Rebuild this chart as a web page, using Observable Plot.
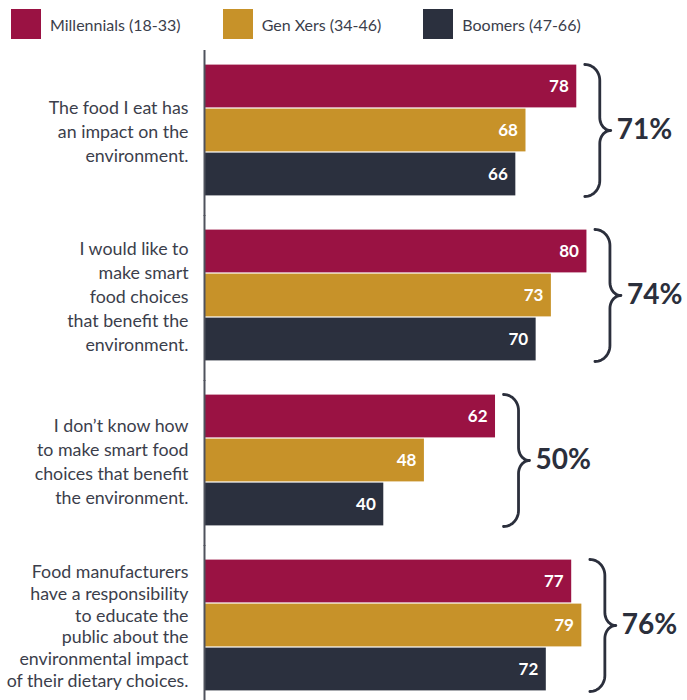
<!DOCTYPE html>
<html>
<head>
<meta charset="utf-8">
<script src="https://cdn.jsdelivr.net/npm/d3@7"></script>
<script src="https://cdn.jsdelivr.net/npm/@observablehq/plot@0.6"></script>
<style>
  body { margin: 0; background: #fff; font-family: Lato, "Open Sans", sans-serif; }
  #legend { display: flex; align-items: center; height: 46px; box-sizing: border-box; padding: 9px 0 7px 11px; }
  .item { display: flex; align-items: center; margin-right: 42px; }
  .sw { width: 30px; height: 30px; margin-right: 9px; }
  .lab { font-size: 16px; color: #3b3e4b; }
  #chart svg { display: block; }
</style>
</head>
<body>
<div id="legend"></div>
<div id="chart"></div>
<script>
// ---- data ----
const statements = [
  "The food I eat has\nan impact on the\nenvironment.",
  "I would like to\nmake smart\nfood choices\nthat benefit the\nenvironment.",
  "I don\u2019t know how\nto make smart food\nchoices that benefit\nthe environment.",
  "Food manufacturers\nhave a responsibility\nto educate the\npublic about the\nenvironmental impact\nof their dietary choices."
];
const generations = ["Millennials (18-33)", "Gen Xers (34-46)", "Boomers (47-66)"];
const colors = ["#9a1243", "#c79229", "#2b303e"];
const millennials = [78, 80, 62, 77];
const genXers = [68, 73, 48, 79];
const boomers = [66, 70, 40, 72];
const overall = [71, 74, 50, 76];

// ---- layout ----
const W = 687, H = 654, ML = 204, MR = 0, MT = 17, MB = 8;
const XMIN = 4.7, XMAX = 99.8;
const k = (W - ML - MR) / (XMAX - XMIN);      // px per value unit
const bandPx = 132, yPerPx = 3 / bandPx;       // y units per px inside a facet
const ink = "#2b2f3c", textCol = "#3b3e4b";
const labelSize = 17.8;

// legend
const legend = document.getElementById("legend");
generations.forEach((g, i) => {
  const it = document.createElement("div"); it.className = "item";
  const sw = document.createElement("div"); sw.className = "sw"; sw.style.background = colors[i];
  const lb = document.createElement("span"); lb.className = "lab"; lb.textContent = g;
  it.append(sw, lb); legend.append(it);
});

const series = [millennials, genXers, boomers];
const rows = statements.flatMap((s, si) => series.map((arr, gi) => ({statement: s, gen: generations[gi], gi, value: arr[si]})));
const groups = statements.map((s, si) => ({statement: s, max: Math.max(...series.map(a => a[si])), pct: overall[si], lines: s.split("\n").length}));

// brace points (derived from each group's longest bar)
function brace(g) {
  const h = g.max + 8 / k, v = g.max + 23 / k, t = g.max + 34 / k;
  const r1 = 16 * yPerPx, r2 = 13 * yPerPx;
  const top = [];
  const N = 14;
  for (let i = 0; i <= N; i++) { const a = i / N * Math.PI / 2; top.push([h + (v - h) * Math.sin(a), r1 * (1 - Math.cos(a))]); }
  for (let i = 0; i <= N; i++) { const a = i / N * Math.PI / 2; top.push([v + (t - v) * (1 - Math.cos(a)), 1.5 - r2 + r2 * Math.sin(a)]); }
  const bottom = top.slice().reverse().map(([x, y]) => [x, 3 - y]);
  return top.concat(bottom).map(([x, y]) => ({statement: g.statement, x, y}));
}
const bracePts = groups.flatMap(brace);

const labelMarks = groups.map(g => Plot.text([g], {
  fy: "statement", frameAnchor: "left", text: "statement", textAnchor: "end", dx: -16,
  fontSize: labelSize, fill: textCol, lineHeight: Math.min(24, 131 / g.lines) / labelSize
}));

const chart = Plot.plot({
  width: W, height: H, marginLeft: ML, marginRight: MR, marginTop: MT, marginBottom: MB,
  style: {fontFamily: "Lato, 'Open Sans', sans-serif", background: "#fff", overflow: "visible"},
  x: {domain: [XMIN, XMAX], axis: null},
  y: {domain: [0, 3], reverse: true, axis: null},
  fy: {domain: statements, axis: null, paddingInner: 0.203, paddingOuter: 0},
  color: {domain: generations, range: colors},
  marks: [
    Plot.rect(rows, {x1: () => XMIN, x2: "value", y1: "gi", y2: d => d.gi + 1, fy: "statement", fill: "gen", insetTop: 0.6, insetBottom: 0.6}),
    Plot.ruleX([XMIN], {stroke: "#4f525d", strokeWidth: 2, insetTop: -14, insetBottom: -20}),
    Plot.text(rows, {x: "value", y: d => d.gi + 0.5, fy: "statement", text: d => String(d.value), textAnchor: "end", dx: -8, fill: "white", fontSize: 17, fontWeight: 700}),
    Plot.line(bracePts, {x: "x", y: "y", fy: "statement", z: "statement", stroke: ink, strokeWidth: 2.8, curve: "linear", strokeLinejoin: "round", strokeLinecap: "round"}),
    Plot.text(groups, {x: d => d.max + 40 / k, y: () => 1.5, fy: "statement", text: d => d.pct + "%", textAnchor: "start", fontSize: 28, fontWeight: 700, fill: ink}),
    ...labelMarks
  ]
});
document.getElementById("chart").append(chart);
</script>
</body>
</html>
